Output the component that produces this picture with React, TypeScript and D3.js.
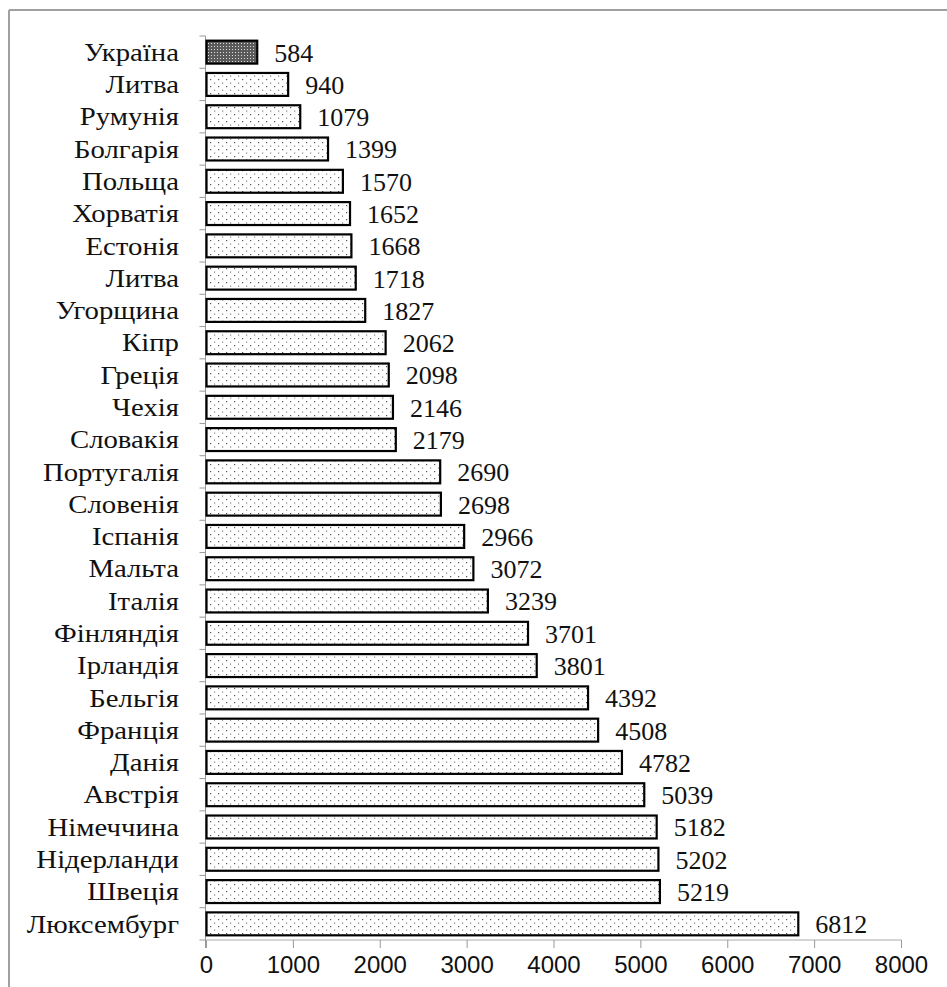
import React from "react";
import * as d3 from "d3";

const countries = [
  "Україна", "Литва", "Румунія", "Болгарія", "Польща", "Хорватія", "Естонія", "Литва",
  "Угорщина", "Кіпр", "Греція", "Чехія", "Словакія", "Португалія", "Словенія", "Іспанія",
  "Мальта", "Італія", "Фінляндія", "Ірландія", "Бельгія", "Франція", "Данія", "Австрія",
  "Німеччина", "Нідерланди", "Швеція", "Люксембург",
];
const values = [
  584, 940, 1079, 1399, 1570, 1652, 1668, 1718, 1827, 2062, 2098, 2146, 2179, 2690,
  2698, 2966, 3072, 3239, 3701, 3801, 4392, 4508, 4782, 5039, 5182, 5202, 5219, 6812,
];
const xTicks = [0, 1000, 2000, 3000, 4000, 5000, 6000, 7000, 8000];

const W = 947;
const H = 987;
const left = 206.5;
const right = 901.5;
const top = 36;
const bottom = 940;

export default function App() {
  const ids = countries.map((c, i) => `r${i}`);
  const x = d3.scaleLinear().domain([0, 8000]).range([left, right]);
  const y = d3.scaleBand<string>().domain(ids).range([top, bottom]).paddingInner(0.29).paddingOuter(0.145);
  const yTickPos = d3.range(countries.length + 1).map((i) => top + (i * (bottom - top)) / countries.length);
  const serif = { fontFamily: "Liberation Serif" };
  const sans = { fontFamily: "Liberation Sans" };
  return (
    <svg width={W} height={H} style={{ position: "absolute", left: 0, top: 0, background: "#fff" }}>
      <defs>
        <pattern id="dots" width="8" height="7" patternUnits="userSpaceOnUse">
          <rect width="8" height="7" fill="#fff" />
          <rect x="2" y="2" width="1.2" height="1.2" fill="#555" />
          <rect x="6" y="5.5" width="1.2" height="1.2" fill="#888" />
        </pattern>
        <pattern id="dark" width="3" height="3" patternUnits="userSpaceOnUse">
          <rect width="3" height="3" fill="#5a5a5a" />
          <rect x="1" y="1" width="1" height="1" fill="#ddd" />
        </pattern>
      </defs>
      <line x1={9} y1={10} x2={W} y2={10} stroke="#a0a0a0" strokeWidth={2} />
      <line x1={9} y1={10} x2={9} y2={H} stroke="#a0a0a0" strokeWidth={2} />
      {/* y axis */}
      <line x1={left - 1} y1={top} x2={left - 1} y2={bottom + 8} stroke="#999" strokeWidth={1} />
      {yTickPos.map((p, i) => (
        <line key={i} x1={left - 7} y1={p} x2={left - 1} y2={p} stroke="#999" strokeWidth={1} />
      ))}
      {/* x axis */}
      <line x1={left} y1={bottom} x2={right} y2={bottom} stroke="#aaa" strokeWidth={1} />
      {xTicks.map((t) => (
        <g key={t}>
          <line x1={x(t)} y1={bottom} x2={x(t)} y2={bottom + 8} stroke="#999" strokeWidth={1} />
          <text x={x(t)} y={973} textAnchor="middle" style={sans} fontSize={24} fill="#111">
            {t}
          </text>
        </g>
      ))}
      {countries.map((c, i) => {
        const yy = y(ids[i])!;
        const bh = y.bandwidth();
        return (
          <g key={i}>
            <rect
              x={x(0)}
              y={yy}
              width={x(values[i]) - x(0)}
              height={bh}
              fill={i === 0 ? "url(#dark)" : "url(#dots)"}
              stroke="#000"
              strokeWidth={2.2}
            />
            <g transform={`translate(179, ${yy + bh / 2}) scale(1.15, 1)`}>
              <text x={0} y={0} dy="0.35em" textAnchor="end" style={serif} fontSize={25} fill="#111">
                {c}
              </text>
            </g>
            <text x={x(values[i]) + 17} y={yy + bh / 2} dy="0.36em" style={serif} fontSize={26} fill="#111">
              {values[i]}
            </text>
          </g>
        );
      })}
    </svg>
  );
}
